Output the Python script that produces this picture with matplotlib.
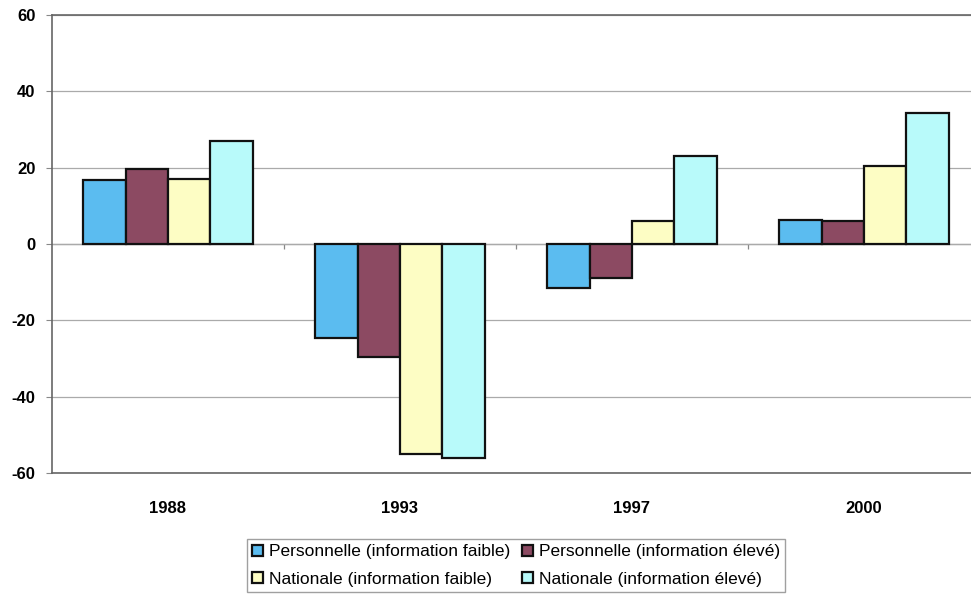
import numpy as np
import matplotlib.pyplot as plt

plt.rcParams['font.family'] = ['Liberation Sans', 'DejaVu Sans']
plt.rcParams['axes.unicode_minus'] = False

years = ["1988", "1993", "1997", "2000"]
series = [
    "Personnelle (information faible)",
    "Personnelle (information élevé)",
    "Nationale (information faible)",
    "Nationale (information élevé)",
]
perso_faible = [16.8, -24.6, -11.5, 6.3]
perso_eleve = [19.6, -29.6, -8.9, 6.0]
nat_faible = [17.0, -55.0, 6.0, 20.4]
nat_eleve = [27.0, -56.0, 23.0, 34.3]
colors = ["#5bbcf0", "#8c4a62", "#fdfdc4", "#b8fafa"]

fig = plt.figure(figsize=(9.71, 5.96), dpi=100)
ax = fig.add_axes([52 / 971, 123 / 596, 928 / 971, 458 / 596])

x = np.arange(len(years))
w = 0.183
bars = []
for i, (vals, col, lab) in enumerate(zip([perso_faible, perso_eleve, nat_faible, nat_eleve], colors, series)):
    bars.append(ax.bar(x + (i - 1.5) * w, vals, w, color=col, edgecolor="#111111",
                       linewidth=1.6, label=lab, zorder=3))

ax.set_xlim(-0.5, 3.5)
ax.set_ylim(-60, 60)
ax.set_yticks(np.arange(-60, 61, 20))
ax.set_xticks(x)
ax.set_xticklabels(years)
ax.tick_params(axis='x', length=0, pad=20)
ax.tick_params(axis='y', length=4, color="#888888", pad=8)
for lab in ax.get_xticklabels() + ax.get_yticklabels():
    lab.set_fontweight('bold')
    lab.set_fontsize(12)
ax.grid(axis='y', color="#aaaaaa", linewidth=0.9, zorder=0)
ax.axhline(0, color="#888888", linewidth=0.9, zorder=1)
# category separators hang off the zero line
ax.vlines(np.arange(0.5, 3.5, 1), -1.2, 0, color="#888888", linewidth=0.9, zorder=1)
for s in ["left", "bottom", "top"]:
    ax.spines[s].set_color("#666666")
    ax.spines[s].set_linewidth(1.2)
ax.spines["right"].set_visible(False)

# row-wise legend: personnelle on top row, nationale below
order = [0, 2, 1, 3]
leg = fig.legend([bars[i] for i in order], [series[i] for i in order],
                 loc='upper center', bbox_to_anchor=(516 / 971, 1 - 539 / 596), ncol=2,
                 fontsize=12.5, frameon=True, fancybox=False, edgecolor="#888888",
                 handlelength=0.6, handleheight=0.6, handletextpad=0.35,
                 columnspacing=0.7, borderpad=0.3, borderaxespad=0, labelspacing=0.72)
leg.get_frame().set_linewidth(1.0)

fig.savefig("out.png", dpi=100)
